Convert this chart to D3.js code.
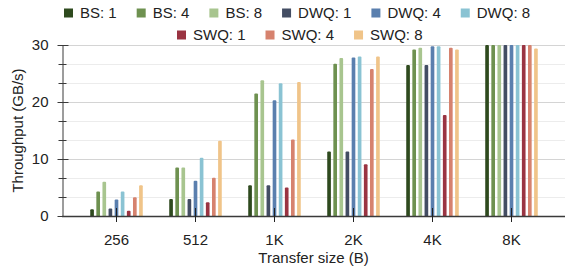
<!DOCTYPE html>
<html>
<head>
<meta charset="utf-8">
<script src="https://cdn.jsdelivr.net/npm/d3@7"></script>
<style>
	body { margin: 0; background: #fff; }
	text { font-family: 'Liberation Sans', Arial, sans-serif; fill: #222; }
</style>
</head>
<body>
<script>
// - data -

var sizes = ['256', '512', '1K', '2K', '4K', '8K'];
var seriesNames = ['BS: 1', 'BS: 4', 'BS: 8', 'DWQ: 1', 'DWQ: 4', 'DWQ: 8', 'SWQ: 1', 'SWQ: 4', 'SWQ: 8'];
var seriesColors = ['#2e4a1e', '#6e9150', '#a8c58f', '#434d63', '#5a7fae', '#8ac3d3', '#9a3442', '#d6826e', '#f0c489'];

var bs1  = [1.2, 3.0, 5.4, 11.3, 26.5, 30];
var bs4  = [4.3, 8.5, 21.5, 26.7, 29.2, 30];
var bs8  = [6.0, 8.5, 23.8, 27.7, 29.5, 30];
var dwq1 = [1.3, 3.0, 5.4, 11.3, 26.5, 30];
var dwq4 = [2.9, 6.2, 20.3, 27.8, 29.8, 30];
var dwq8 = [4.3, 10.2, 23.3, 28.0, 29.8, 30];
var swq1 = [0.9, 2.4, 5.0, 9.1, 17.7, 30];
var swq4 = [3.3, 6.7, 13.4, 25.8, 29.5, 30];
var swq8 = [5.4, 13.2, 23.5, 28.0, 29.2, 29.4];

var seriesValues = [bs1, bs4, bs8, dwq1, dwq4, dwq8, swq1, swq4, swq8];

var yMajorTicks = [0, 10, 20, 30];

// - setup -

var width = 565;
var height = 269;

var margin = { top: 45, left: 62, right: 0, bottom: 53 };

var svg = d3.select('body').append('svg')
	.attr('width', width)
	.attr('height', height);

var plotBottom = height - margin.bottom; // 216

var y = d3.scaleLinear()
	.domain([0, 30])
	.range([plotBottom, margin.top]);

var x0 = d3.scaleBand()
	.domain(sizes)
	.range([77, 551])
	.paddingInner(0.335)
	.paddingOuter(0.1675);

var x1 = d3.scaleBand()
	.domain(seriesNames)
	.range([0, x0.bandwidth()])
	.paddingInner(0.4);

// minor ticks every 10/3
var minorTicks = [];
for (var t = 0; t <= 30.01; t += 10 / 3) minorTicks.push(t);

const isMajor = (d) => Math.abs(d % 10) < 0.01 || Math.abs(d % 10 - 10) < 0.01;

// - grid -

svg.append('g').selectAll('line')
	.data(minorTicks).enter()
	.append('line')
		.attr('x1', margin.left)
		.attr('x2', width)
		.attr('y1', function(d) { return Math.round(y(d)) + 0.5; })
		.attr('y2', function(d) { return Math.round(y(d)) + 0.5; })
		.attr('stroke', function(d) { return isMajor(d) ? '#d4d4d4' : '#ececec'; })
		.attr('stroke-width', 1);

// - bars -

svg.append('clipPath').attr('id', 'plot-clip')
	.append('rect')
	.attr('x', margin.left)
	.attr('y', y(30))
	.attr('width', width - margin.left)
	.attr('height', plotBottom - y(30));

var gBars = svg.append('g').attr('clip-path', 'url(#plot-clip)');

seriesNames.forEach(function(name, si) {
	gBars.selectAll('.bar-' + si)
		.data(seriesValues[si]).enter()
		.append('rect')
			.attr('x', function(d, i) { return x0(sizes[i]) + x1(name); })
			.attr('y', function(d) { return y(d); })
			.attr('width', x1.bandwidth())
			.attr('height', function(d) { return plotBottom - y(d) + 1; })
			.attr('rx', 1)
			.attr('fill', seriesColors[si]);
});

// - axes -

var axisColor = '#3a3a3a';

var yAxis = svg.append('g')
	.attr('transform', 'translate(' + (margin.left + 0.5) + ',0)')
	.call(d3.axisLeft(y).tickValues(yMajorTicks).tickSizeInner(5).tickSizeOuter(0).tickPadding(9));

yAxis.select('.domain').attr('stroke', axisColor);
yAxis.selectAll('.tick line').attr('x2', 6).attr('x1', -5).attr('stroke', axisColor);
yAxis.selectAll('.tick text')
	.attr('font-size', 15)
	.attr('font-family', "'Liberation Sans', Arial, sans-serif")
	.attr('fill', '#222');

// minor ticks on y axis
yAxis.selectAll('.minor')
	.data(minorTicks.filter(function(d) { return !isMajor(d); })).enter()
	.append('line')
		.attr('class', 'minor')
		.attr('x1', -4)
		.attr('x2', 4)
		.attr('y1', function(d) { return Math.round(y(d)) + 0.5; })
		.attr('y2', function(d) { return Math.round(y(d)) + 0.5; })
		.attr('stroke', axisColor);

// bottom axis line
svg.append('line')
	.attr('x1', margin.left)
	.attr('x2', width)
	.attr('y1', plotBottom + 0.5)
	.attr('y2', plotBottom + 0.5)
	.attr('stroke', axisColor)
	.attr('stroke-width', 1.5);

var xAxis = svg.append('g')
	.attr('transform', 'translate(0,' + plotBottom + ')')
	.call(d3.axisBottom(x0).tickSizeInner(6).tickSizeOuter(0).tickPadding(12));

xAxis.select('.domain').remove();
xAxis.selectAll('.tick line').attr('y1', -8).attr('y2', 6).attr('stroke', '#222');
xAxis.selectAll('.tick text')
	.attr('font-size', 15)
	.attr('font-family', "'Liberation Sans', Arial, sans-serif")
	.attr('fill', '#222');

// - axis titles -

svg.append('text')
	.attr('x', (margin.left + width) / 2)
	.attr('y', 263)
	.attr('text-anchor', 'middle')
	.attr('font-size', 15)
	.text('Transfer size (B)');

svg.append('text')
	.attr('transform', 'translate(23,' + (y(15)) + ') rotate(-90)')
	.attr('text-anchor', 'middle')
	.attr('font-size', 15)
	.text('Throughput (GB/s)');

// - legend -

var legendRows = [
	{ items: [0, 1, 2, 3, 4, 5], x: 64, y: 13 },
	{ items: [6, 7, 8], x: 177, y: 35 }
];

legendRows.forEach(function(row) {
	var lx = row.x;
	row.items.forEach(function(si) {
		var g = svg.append('g').attr('transform', 'translate(' + lx + ',' + row.y + ')');
		g.append('rect')
			.attr('x', 0)
			.attr('y', -4.5)
			.attr('width', 9)
			.attr('height', 9)
			.attr('fill', seriesColors[si]);
		var txt = g.append('text')
			.attr('x', 16)
			.attr('y', 0)
			.attr('dy', '0.35em')
			.attr('font-size', 15)
			.text(seriesNames[si]);
		lx += 16 + txt.node().getComputedTextLength() + 20;
	});
});
</script>
</body>
</html>
